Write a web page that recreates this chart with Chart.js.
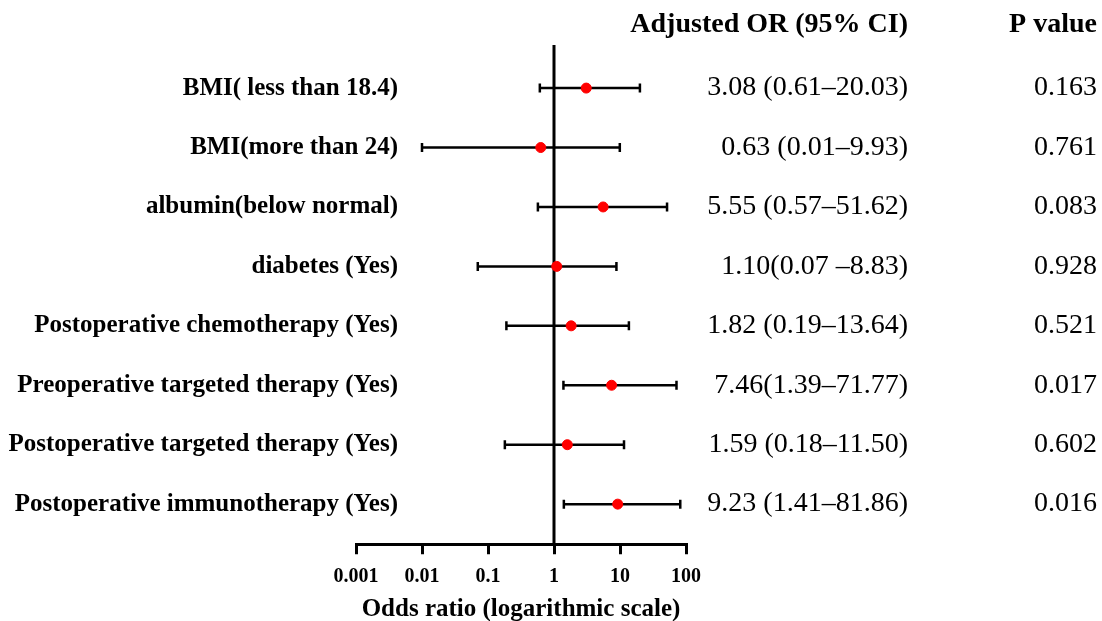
<!DOCTYPE html>
<html>
<head>
<meta charset="utf-8">
<script src="https://cdn.jsdelivr.net/npm/chart.js@4/dist/chart.umd.min.js"></script>
<style>
html,body{margin:0;padding:0;background:#fff;}
#wrap{width:1102px;height:621px;position:relative;}
</style>
</head>
<body>
<div id="wrap"><canvas id="c" width="1102" height="621"></canvas></div>
<script>
const categories = [
  "BMI( less than 18.4)",
  "BMI(more than 24)",
  "albumin(below normal)",
  "diabetes (Yes)",
  "Postoperative chemotherapy (Yes)",
  "Preoperative targeted therapy (Yes)",
  "Postoperative targeted therapy (Yes)",
  "Postoperative immunotherapy (Yes)"
];
const oddsRatios = [3.08, 0.63, 5.55, 1.10, 1.82, 7.46, 1.59, 9.23];
const ciLower = [0.61, 0.01, 0.57, 0.07, 0.19, 1.39, 0.18, 1.41];
const ciUpper = [20.03, 9.93, 51.62, 8.83, 13.64, 71.77, 11.50, 81.86];
const orLabels = [
  "3.08 (0.61\u201320.03)",
  "0.63 (0.01\u20139.93)",
  "5.55 (0.57\u201351.62)",
  "1.10(0.07 \u20138.83)",
  "1.82 (0.19\u201313.64)",
  "7.46(1.39\u201371.77)",
  "1.59 (0.18\u201311.50)",
  "9.23 (1.41\u201381.86)"
];
const pValues = ["0.163", "0.761", "0.083", "0.928", "0.521", "0.017", "0.602", "0.016"];
const xTicks = [0.001, 0.01, 0.1, 1, 10, 100];
const xTickLabels = ["0.001", "0.01", "0.1", "1", "10", "100"];

const SERIF = '"Liberation Serif","Times New Roman",serif';

const forestPlugin = {
  id: 'forest',
  beforeDatasetsDraw(chart) {
    const ctx = chart.ctx, xs = chart.scales.x, ys = chart.scales.y, ca = chart.chartArea;
    ctx.save();
    ctx.strokeStyle = '#000';
    ctx.lineWidth = 3;
    const x1 = xs.getPixelForValue(1);
    ctx.beginPath(); ctx.moveTo(x1, ca.top); ctx.lineTo(x1, ca.bottom); ctx.stroke();
    ctx.lineWidth = 2.5;
    for (let i = 0; i < categories.length; i++) {
      const y = ys.getPixelForValue(i + 1);
      const xl = xs.getPixelForValue(ciLower[i]);
      const xh = xs.getPixelForValue(ciUpper[i]);
      ctx.beginPath();
      ctx.moveTo(xl, y); ctx.lineTo(xh, y);
      ctx.moveTo(xl, y - 4.5); ctx.lineTo(xl, y + 4.5);
      ctx.moveTo(xh, y - 4.5); ctx.lineTo(xh, y + 4.5);
      ctx.stroke();
    }
    ctx.restore();
  },
  afterDraw(chart) {
    const ctx = chart.ctx, ys = chart.scales.y;
    ctx.save();
    ctx.fillStyle = '#000';
    ctx.textBaseline = 'middle';
    ctx.font = 'bold 28px ' + SERIF;
    ctx.textAlign = 'right';
    ctx.fillText('Adjusted OR (95% CI)', 908, 25);
    ctx.fillText('P value', 1097, 25);
    for (let i = 0; i < categories.length; i++) {
      const y = ys.getPixelForValue(i + 1);
      ctx.font = 'bold 25px ' + SERIF;
      ctx.textAlign = 'right';
      ctx.fillText(categories[i], 398, y);
      ctx.font = '28px ' + SERIF;
      ctx.fillText(orLabels[i], 908, y);
      ctx.fillText(pValues[i], 1097, y);
    }
    ctx.restore();
  }
};

new Chart(document.getElementById('c'), {
  type: 'scatter',
  data: {
    datasets: [{
      data: oddsRatios.map((v, i) => ({x: v, y: i + 1})),
      backgroundColor: '#ff0000',
      borderColor: '#ff0000',
      pointRadius: 5,
      pointHoverRadius: 5
    }]
  },
  options: {
    responsive: false,
    animation: false,
    devicePixelRatio: 1,
    layout: { padding: { left: 356, right: 416, top: 45, bottom: 0 } },
    plugins: { legend: { display: false }, tooltip: { enabled: false } },
    scales: {
      x: {
        type: 'logarithmic',
        min: 0.001,
        max: 100,
        afterBuildTicks(scale) { scale.ticks = xTicks.map(v => ({value: v})); },
        grid: { display: true, drawOnChartArea: false, drawTicks: true, tickLength: 10, lineWidth: 3, color: '#000' },
        border: { display: true, width: 3, color: '#000' },
        ticks: {
          autoSkip: false,
          maxRotation: 0,
          padding: 11,
          color: '#000',
          font: { family: SERIF, size: 20, weight: 'bold', lineHeight: 1.2 },
          callback(value) { const k = xTicks.indexOf(value); return k >= 0 ? xTickLabels[k] : ''; }
        },
        title: {
          display: true,
          text: 'Odds ratio (logarithmic scale)',
          color: '#000',
          font: { family: SERIF, size: 25, weight: 'bold', lineHeight: 0.75 },
          padding: { top: 0, bottom: 2 }
        }
      },
      y: {
        type: 'linear',
        display: false,
        reverse: true,
        min: 0.275,
        max: 8.675
      }
    }
  },
  plugins: [forestPlugin]
});
</script>
</body>
</html>
